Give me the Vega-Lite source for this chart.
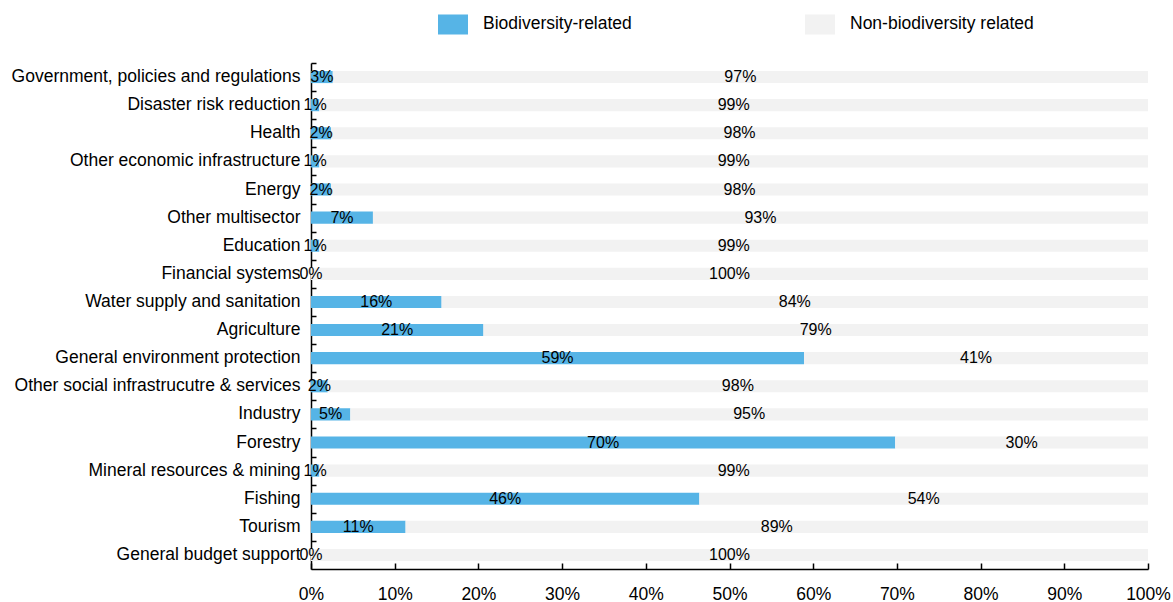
{
  "$schema": "https://vega.github.io/schema/vega-lite/v6.json",
  "width": 837,
  "height": 506,
  "autosize": {"type": "none"},
  "padding": {"left": 311, "top": 63, "right": 25, "bottom": 33},
  "background": "white",
  "config": {
    "font": "Liberation Sans",
    "view": {"stroke": null},
    "axis": {"labelFont": "Liberation Sans", "labelColor": "#000000", "domainColor": "#000000", "tickColor": "#000000", "grid": false, "title": null}
  },
  "data": {
    "values": [
      {"category": "Government, policies and regulations", "series": "Biodiversity-related", "value": 0.026},
      {"category": "Government, policies and regulations", "series": "Non-biodiversity related", "value": 0.974},
      {"category": "Disaster risk reduction", "series": "Biodiversity-related", "value": 0.01},
      {"category": "Disaster risk reduction", "series": "Non-biodiversity related", "value": 0.99},
      {"category": "Health", "series": "Biodiversity-related", "value": 0.024},
      {"category": "Health", "series": "Non-biodiversity related", "value": 0.976},
      {"category": "Other economic infrastructure", "series": "Biodiversity-related", "value": 0.01},
      {"category": "Other economic infrastructure", "series": "Non-biodiversity related", "value": 0.99},
      {"category": "Energy", "series": "Biodiversity-related", "value": 0.024},
      {"category": "Energy", "series": "Non-biodiversity related", "value": 0.976},
      {"category": "Other multisector", "series": "Biodiversity-related", "value": 0.074},
      {"category": "Other multisector", "series": "Non-biodiversity related", "value": 0.926},
      {"category": "Education", "series": "Biodiversity-related", "value": 0.01},
      {"category": "Education", "series": "Non-biodiversity related", "value": 0.99},
      {"category": "Financial systems", "series": "Biodiversity-related", "value": 0.0},
      {"category": "Financial systems", "series": "Non-biodiversity related", "value": 1.0},
      {"category": "Water supply and sanitation", "series": "Biodiversity-related", "value": 0.156},
      {"category": "Water supply and sanitation", "series": "Non-biodiversity related", "value": 0.844},
      {"category": "Agriculture", "series": "Biodiversity-related", "value": 0.206},
      {"category": "Agriculture", "series": "Non-biodiversity related", "value": 0.794},
      {"category": "General environment protection", "series": "Biodiversity-related", "value": 0.589},
      {"category": "General environment protection", "series": "Non-biodiversity related", "value": 0.411},
      {"category": "Other social infrastrucutre & services", "series": "Biodiversity-related", "value": 0.02},
      {"category": "Other social infrastrucutre & services", "series": "Non-biodiversity related", "value": 0.98},
      {"category": "Industry", "series": "Biodiversity-related", "value": 0.047},
      {"category": "Industry", "series": "Non-biodiversity related", "value": 0.953},
      {"category": "Forestry", "series": "Biodiversity-related", "value": 0.698},
      {"category": "Forestry", "series": "Non-biodiversity related", "value": 0.302},
      {"category": "Mineral resources & mining", "series": "Biodiversity-related", "value": 0.01},
      {"category": "Mineral resources & mining", "series": "Non-biodiversity related", "value": 0.99},
      {"category": "Fishing", "series": "Biodiversity-related", "value": 0.464},
      {"category": "Fishing", "series": "Non-biodiversity related", "value": 0.536},
      {"category": "Tourism", "series": "Biodiversity-related", "value": 0.113},
      {"category": "Tourism", "series": "Non-biodiversity related", "value": 0.887},
      {"category": "General budget support", "series": "Biodiversity-related", "value": 0.0},
      {"category": "General budget support", "series": "Non-biodiversity related", "value": 1.0}
    ]
  },
  "transform": [
    {"stack": "value", "groupby": ["category"], "sort": [{"field": "series", "order": "ascending"}], "as": ["v0", "v1"]},
    {"calculate": "(datum.v0 + datum.v1) / 2", "as": "mid"}
  ],
  "resolve": {"axis": {"x": "independent", "y": "independent"}},
  "layer": [
    {
      "mark": {"type": "bar", "strokeWidth": 0},
      "encoding": {
        "y": {
          "field": "category",
          "type": "nominal",
          "scale": {
            "domain": ["Government, policies and regulations", "Disaster risk reduction", "Health", "Other economic infrastructure", "Energy", "Other multisector", "Education", "Financial systems", "Water supply and sanitation", "Agriculture", "General environment protection", "Other social infrastrucutre & services", "Industry", "Forestry", "Mineral resources & mining", "Fishing", "Tourism", "General budget support"],
            "paddingInner": 0.57,
            "paddingOuter": 0.285
          },
          "axis": {"labelFontSize": 17.5, "labelPadding": 11, "ticks": false, "domainWidth": 1.5, "labelLimit": 400}
        },
        "x": {
          "field": "v0",
          "type": "quantitative",
          "scale": {"domain": [0, 1], "nice": false},
          "axis": {"values": [0, 0.1, 0.2, 0.3, 0.4, 0.5, 0.6, 0.7, 0.8, 0.9, 1], "format": ".0%", "labelFontSize": 17.5, "labelPadding": 16, "ticks": false, "domainWidth": 1.5, "labelFlush": false}
        },
        "x2": {"field": "v1"},
        "color": {
          "field": "series",
          "type": "nominal",
          "scale": {"domain": ["Biodiversity-related", "Non-biodiversity related"], "range": ["#56B4E6", "#F2F2F2"]},
          "legend": {
            "title": null,
            "orient": "none",
            "legendX": 127,
            "legendY": -54,
            "direction": "horizontal",
            "symbolType": "M-1,-0.667H1V0.667H-1Z",
            "symbolSize": 900,
            "symbolStrokeWidth": 0,
            "symbolOpacity": 1,
            "labelFontSize": 17.5,
            "labelColor": "#000000",
            "labelOffset": 15,
            "columnPadding": 173,
            "labelLimit": 400
          }
        }
      }
    },
    {
      "mark": {"type": "text", "fontSize": 16, "color": "#000000", "align": "center", "baseline": "middle"},
      "encoding": {
        "y": {
          "field": "category",
          "type": "nominal",
          "axis": {"orient": "right", "offset": -837, "labels": false, "domain": false, "ticks": true, "tickOffset": -14.06, "tickSize": 5, "tickWidth": 1.5, "tickColor": "#000000"}
        },
        "x": {
          "field": "mid",
          "type": "quantitative",
          "axis": {"orient": "top", "offset": -506, "values": [0, 0.1, 0.2, 0.3, 0.4, 0.5, 0.6, 0.7, 0.8, 0.9, 1], "labels": false, "domain": false, "ticks": true, "tickSize": 6, "tickWidth": 1.5, "tickColor": "#000000"}
        },
        "text": {"field": "value", "type": "quantitative", "format": ".0%"}
      }
    }
  ]
}
